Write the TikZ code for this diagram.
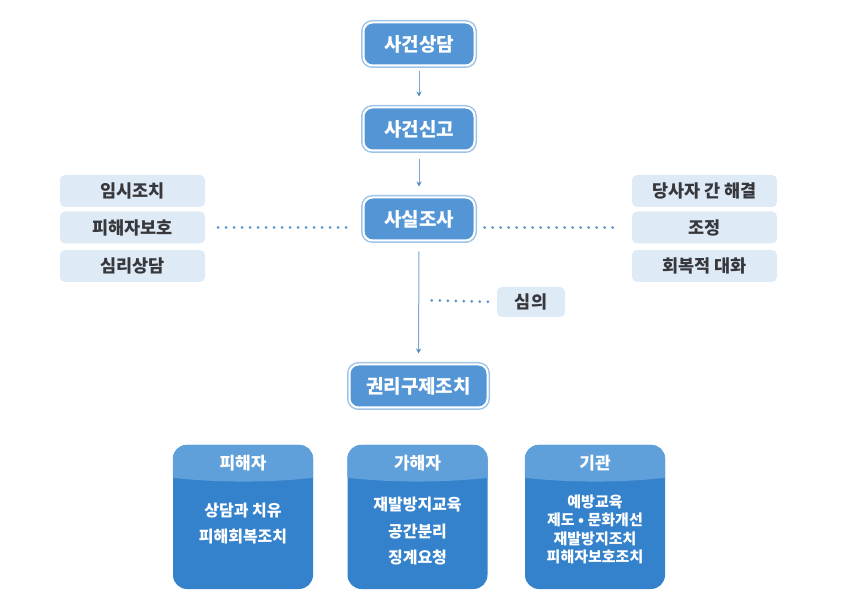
\documentclass[tikz,border=0pt]{standalone}
\usepackage{fontspec}
\setmainfont{Noto Sans CJK KR}
\usetikzlibrary{arrows.meta,calc}
\definecolor{mainblue}{RGB}{84,150,213}
\definecolor{ringblue}{RGB}{160,196,232}
\definecolor{sidefill}{RGB}{222,235,247}
\definecolor{sidetext}{RGB}{55,55,60}
\definecolor{bodyblue}{RGB}{52,130,204}
\definecolor{headblue}{RGB}{96,160,218}
\definecolor{dotblue}{RGB}{84,146,206}
\definecolor{arrowblue}{RGB}{120,168,214}
\definecolor{tipblue}{RGB}{80,135,195}
\tikzset{
  mainbox/.style={fill=mainblue, draw=white, line width=2pt, rounded corners=9pt,
    preaction={draw=ringblue, line width=5pt, rounded corners=9pt},
    minimum width=111pt, minimum height=43pt, inner sep=0pt,
    text=white, font=\fontsize{19}{22}\selectfont\bfseries},
  sidebox/.style={fill=sidefill, rounded corners=5pt, minimum width=145pt, minimum height=32pt,
    inner sep=0pt, text=sidetext, font=\fontsize{17.5}{20}\selectfont\bfseries},
  groupbox/.style={fill=bodyblue, rounded corners=14pt, minimum width=140pt, minimum height=144pt, inner sep=0pt},
  headtext/.style={text=white, font=\fontsize{17}{20}\selectfont\bfseries},
  bodytext/.style={text=white, align=center, font=\fontsize{16}{26.5}\selectfont\bfseries},
  flow/.style={draw=arrowblue, line width=1pt, -{Stealth[length=5pt,width=5pt,color=tipblue]}},
  dotline/.style={draw=dotblue, line width=3pt, line cap=round, dash pattern=on 0pt off 8pt},
}
\begin{document}
\begin{tikzpicture}[x=1pt,y=-1pt]
\useasboundingbox (0,0) rectangle (847,612);
\node[mainbox] (consult) at (419,44) {사건상담};
\node[mainbox] (report) at (419,129) {사건신고};
\node[mainbox] (invest) at (419,219) {사실조사};
\node[mainbox, minimum width=138pt] (remedy) at (418.5,386) {권리구제조치};

\node[sidebox] (l1) at (132.5,191) {임시조치};
\node[sidebox] (l2) at (132.5,227.5) {피해자보호};
\node[sidebox] (l3) at (132.5,266) {심리상담};
\node[sidebox] (r1) at (704.5,191) {당사자 간 해결};
\node[sidebox] (r2) at (704.5,227.5) {조정};
\node[sidebox] (r3) at (704.5,266) {회복적 대화};
\node[sidebox, minimum width=68pt, minimum height=30pt] (delib) at (531,302) {심의};

\draw[flow, shorten <=5pt, shorten >=10pt] (consult) -- (report);
\draw[flow, shorten <=8pt, shorten >=10pt] (report) -- (invest);
\draw[flow, shorten <=10pt, shorten >=10pt] (invest) -- (remedy);

\coordinate (mid) at (418,300);
\draw[dotline, shorten <=13pt, shorten >=11pt] (l2.east) -- (invest.west |- l2.east);
\draw[dotline, shorten <=9pt, shorten >=15pt] (invest.east |- r2.west) -- (r2.west);
\draw[dotline, shorten <=9pt, shorten >=7pt] (delib.west) -- (mid);

% bottom group boxes
\foreach \nm/\cx in {victim/243, offender/417.5, agency/595}{
  \node[groupbox] (\nm) at (\cx,517) {};
  \begin{scope}
    \clip[rounded corners=14pt] (\nm.north west) rectangle (\nm.south east);
    \fill[headblue] (\nm.north west) -- ([yshift=-33pt]\nm.north west)
      .. controls ([xshift=45pt,yshift=-38pt]\nm.north west) and ([xshift=-45pt,yshift=-38pt]\nm.north east)
      .. ([yshift=-33pt]\nm.north east) -- (\nm.north east) -- cycle;
  \end{scope}
}
\node[headtext] (victimh) at (243,463) {피해자};
\node[headtext] (offenderh) at (417.5,463) {가해자};
\node[headtext] (agencyh) at (595,463) {기관};
\node[bodytext] (victimb) at (243,523.5) {상담과 치유\\피해회복조치};
\node[bodytext] (offenderb) at (417.5,531.5) {재발방지교육\\공간분리\\징계요청};
\node[bodytext, font=\fontsize{15}{18.5}\selectfont\bfseries] (agencyb) at (595,529.5) {예방교육\\제도 • 문화개선\\재발방지조치\\피해자보호조치};
\end{tikzpicture}
\end{document}
